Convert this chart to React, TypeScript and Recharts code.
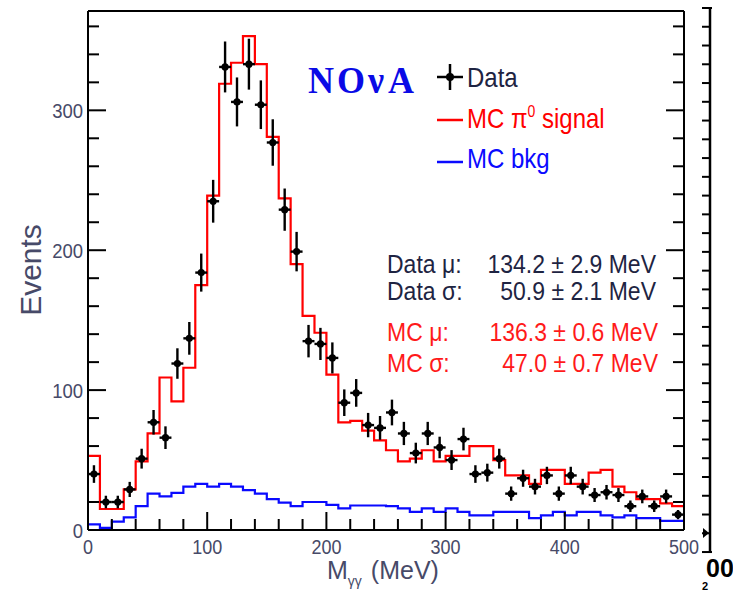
import { ComposedChart, ErrorBar, Line, Scatter, XAxis, YAxis } from 'recharts';

// 10 MeV bins over 0-500 MeV
const BIN_EDGES = Array.from({ length: 51 }, (_, i) => i * 10);
const BIN_CENTERS = BIN_EDGES.slice(0, 50).map((e) => e + 5);

const DATA_COUNTS = [
  40, 20, 20, 29, 51, 77, 66, 119, 137, 184,
  235, 331, 306, 333, 304, 277, 229, 199, 135, 133,
  123, 91, 98, 75, 73, 84, 69, 55, 69, 59,
  50, 65, 40, 41, 51, 26, 37, 31, 39, 26,
  39, 31, 25, 27, 25, 17, 24, 17, 24, 11,
];
const DATA_ERRORS = [
  6.3, 4.5, 4.5, 5.4, 7.1, 8.8, 8.1, 10.9, 11.7, 13.6,
  15.3, 18.2, 17.5, 18.2, 17.4, 16.6, 15.1, 14.1, 11.6, 11.5,
  11.1, 9.5, 9.9, 8.7, 8.5, 9.2, 8.3, 7.4, 8.3, 7.7,
  7.1, 8.1, 6.3, 6.4, 7.1, 5.1, 6.1, 5.6, 6.2, 5.1,
  6.2, 5.6, 5.0, 5.2, 5.0, 4.1, 4.9, 4.1, 4.9, 3.3,
];
const MC_SIGNAL = [
  53, 15, 15, 29, 49, 69, 109, 92, 116, 175,
  239, 319, 334, 353, 333, 281, 237, 190, 153, 141,
  111, 77, 78, 71, 64, 57, 49, 51, 57, 49,
  53, 53, 60, 60, 50, 39, 39, 33, 43, 43,
  33, 33, 41, 43, 31, 27, 22, 22, 19, 17,
];
const MC_BKG = [
  4, 1.5, 6, 9, 17, 26, 24, 26.5, 31, 33,
  31, 33, 31, 28.5, 26, 22, 19.5, 17, 20, 20,
  18, 15.5, 17.5, 17.5, 17.5, 17, 15.5, 13, 15.5, 13,
  15.5, 13, 10.5, 10.5, 13, 13, 13, 8.5, 10.5, 13,
  10.5, 13, 13, 10.5, 9, 10.5, 8.5, 8.5, 6.5, 6.5,
];

const X_TICKS = Array.from({ length: 26 }, (_, i) => i * 20);
const Y_TICKS = Array.from({ length: 19 }, (_, i) => i * 20);

const STATS_DATA = [
  { label: 'Data \u03bc:', value: '134.2 \u00b1 2.9 MeV' },
  { label: 'Data \u03c3:', value: '50.9 \u00b1 2.1 MeV' },
];
const STATS_MC = [
  { label: 'MC \u03bc:', value: '136.3 \u00b1 0.6 MeV' },
  { label: 'MC \u03c3:', value: '47.0 \u00b1 0.7 MeV' },
];

// step histograms need one extra point at the last edge
const histRows = BIN_EDGES.map((m, i) => ({
  m,
  sig: MC_SIGNAL[Math.min(i, 49)],
  bkg: MC_BKG[Math.min(i, 49)],
}));
const pointRows = BIN_CENTERS.map((m, i) => ({
  m,
  n: DATA_COUNTS[i],
  err: DATA_ERRORS[i],
  xerr: 5,
}));

const SANS = '"Liberation Sans", Arial, Helvetica, sans-serif';
const SERIF = '"Liberation Serif", "Times New Roman", serif';
const INK = '#000';
const AXIS_TEXT = '#474a68';
const DARK_TEXT = '#1e2442';
const RED = '#ff0000';
const BLUE = '#0a0aff';
const STRETCH = 1.12;

function Txt({ x, y, size, fill, anchor = 'start', family = SANS, weight, sy = STRETCH, children }: any) {
  return (
    <text
      transform={`translate(${x} ${y}) scale(1 ${sy})`}
      fontSize={size}
      fill={fill}
      textAnchor={anchor}
      fontFamily={family}
      fontWeight={weight}
    >
      {children}
    </text>
  );
}

const tickLen = (v: number) => (v % 100 === 0 ? 18 : 11);

function BottomTick({ x, y, payload }: any) {
  const v = payload.value;
  return (
    <g>
      <line x1={x} x2={x} y1={y} y2={y - tickLen(v)} stroke={INK} strokeWidth={2} />
      {v % 100 === 0 && (
        <Txt x={x} y={y + 24} size={18} anchor="middle" fill={AXIS_TEXT}>
          {v}
        </Txt>
      )}
    </g>
  );
}

function TopTick({ x, y, payload }: any) {
  return <line x1={x} x2={x} y1={y} y2={y + tickLen(payload.value)} stroke={INK} strokeWidth={2} />;
}

function LeftTick({ x, y, payload }: any) {
  const v = payload.value;
  return (
    <g>
      <line x1={x} x2={x + tickLen(v)} y1={y} y2={y} stroke={INK} strokeWidth={2} />
      {v % 100 === 0 && (
        <Txt x={x - 5} y={y + 8} size={18.5} anchor="end" fill={AXIS_TEXT}>
          {v}
        </Txt>
      )}
    </g>
  );
}

function RightTick({ x, y, payload }: any) {
  return <line x1={x} x2={x - tickLen(payload.value)} y1={y} y2={y} stroke={INK} strokeWidth={2} />;
}

const DataMarker = (p: any) => <circle cx={p.cx} cy={p.cy} r={3.6} fill={INK} />;

export default function App() {
  const axisLine = { stroke: INK, strokeWidth: 2 };
  const neighbourTicks = Array.from({ length: 30 }, (_, k) => 8 + k * 18.76);

  return (
    <div style={{ position: 'absolute', left: 0, top: 0, width: 733, height: 593, background: '#fff' }}>
      <ComposedChart width={733} height={593} margin={{ top: 10, right: 48, bottom: 0, left: 28 }}>
        <XAxis
          dataKey="m"
          type="number"
          domain={[0, 500]}
          allowDataOverflow
          ticks={X_TICKS}
          interval={0}
          height={63}
          tickSize={0}
          tickMargin={0}
          tickLine={false}
          axisLine={axisLine}
          tick={<BottomTick />}
        />
        <XAxis
          xAxisId="top"
          orientation="top"
          type="number"
          domain={[0, 500]}
          allowDataOverflow
          ticks={X_TICKS}
          interval={0}
          height={1}
          tickSize={0}
          tickMargin={0}
          tickLine={false}
          axisLine={axisLine}
          tick={<TopTick />}
        />
        <YAxis
          type="number"
          domain={[0, 371]}
          allowDataOverflow
          ticks={Y_TICKS}
          interval={0}
          width={60}
          tickSize={0}
          tickMargin={0}
          tickLine={false}
          axisLine={axisLine}
          tick={<LeftTick />}
        />
        <YAxis
          yAxisId="right"
          orientation="right"
          type="number"
          domain={[0, 371]}
          allowDataOverflow
          ticks={Y_TICKS}
          interval={0}
          width={1}
          tickSize={0}
          tickMargin={0}
          tickLine={false}
          axisLine={axisLine}
          tick={<RightTick />}
        />
        <Line
          data={histRows}
          dataKey="bkg"
          type="stepAfter"
          stroke={BLUE}
          strokeWidth={2.2}
          dot={false}
          isAnimationActive={false}
        />
        <Line
          data={histRows}
          dataKey="sig"
          type="stepAfter"
          stroke={RED}
          strokeWidth={2.2}
          dot={false}
          isAnimationActive={false}
        />
        <Scatter data={pointRows} dataKey="n" fill={INK} shape={DataMarker} isAnimationActive={false}>
          <ErrorBar dataKey="err" direction="y" width={0} stroke={INK} strokeWidth={2.4} />
          <ErrorBar dataKey="xerr" direction="x" width={0} stroke={INK} strokeWidth={2.4} />
        </Scatter>
      </ComposedChart>

      <svg
        width={733}
        height={593}
        style={{ position: 'absolute', left: 0, top: 0, pointerEvents: 'none' }}
      >
        {/* axis titles */}
        <text
          transform="translate(41 270) rotate(-90)"
          textAnchor="middle"
          fontSize={30}
          fontFamily={SANS}
          fill={AXIS_TEXT}
        >
          Events
        </text>
        <text x={327} y={579} fontSize={25} fontFamily={SANS} fill={AXIS_TEXT}>
          M
          <tspan fontSize={14} dy={7}>
            {'\u03b3\u03b3'}
          </tspan>
          <tspan dy={-7} dx={9}>
            (MeV)
          </tspan>
        </text>

        {/* experiment tag */}
        <Txt x={308} y={93} size={36} family={SERIF} weight="bold" fill="#0a0ae6" sy={1.05}>
          <tspan letterSpacing={3}>NO</tspan>
          <tspan>{'\u03bd'}</tspan>
          <tspan dx={4}>A</tspan>
        </Txt>

        {/* legend */}
        <line x1={437} x2={463} y1={77} y2={77} stroke={INK} strokeWidth={2.5} />
        <line x1={450} x2={450} y1={64} y2={90} stroke={INK} strokeWidth={2.5} />
        <circle cx={450} cy={77} r={4} fill={INK} />
        <Txt x={467} y={87} size={24} fill={DARK_TEXT}>
          Data
        </Txt>
        <line x1={437} x2={463} y1={120} y2={120} stroke={RED} strokeWidth={2.5} />
        <Txt x={467} y={128} size={24} fill={RED}>
          MC {'\u03c0'}
          <tspan fontSize={14} dy={-10}>
            0
          </tspan>
          <tspan dy={10}> signal</tspan>
        </Txt>
        <line x1={437} x2={463} y1={162} y2={162} stroke={BLUE} strokeWidth={2.5} />
        <Txt x={467} y={168} size={24} fill={BLUE}>
          MC bkg
        </Txt>

        {/* fit results */}
        {STATS_DATA.map((s, i) => (
          <g key={s.label}>
            <Txt x={387} y={[273, 300][i]} size={23} fill={DARK_TEXT}>
              {s.label}
            </Txt>
            <Txt x={656} y={[273, 300][i]} size={23} anchor="end" fill={DARK_TEXT}>
              {s.value}
            </Txt>
          </g>
        ))}
        {STATS_MC.map((s, i) => (
          <g key={s.label}>
            <Txt x={387} y={[341, 372][i]} size={23} fill="#ff1a1a">
              {s.label}
            </Txt>
            <Txt x={658} y={[341, 372][i]} size={23} anchor="end" fill="#ff1a1a">
              {s.value}
            </Txt>
          </g>
        ))}

        {/* edge of the neighbouring panel */}
        <line x1={710} x2={710} y1={7} y2={553} stroke={INK} strokeWidth={2.5} />
        {neighbourTicks.map((ty, k) => (
          <line
            key={k}
            x1={k === 0 || k === 29 ? 702 : 702}
            x2={k === 0 || k === 29 ? 712 : 710}
            y1={ty}
            y2={ty}
            stroke={INK}
            strokeWidth={2}
          />
        ))}
        <polygon points="703,528 709,533 703,538" fill={INK} />
        <text x={706} y={577} fontSize={25} fontWeight="bold" fontFamily={SANS} fill={INK}>
          00
        </text>
        <text x={702} y={590} fontSize={11} fontWeight="bold" fontFamily={SANS} fill={INK}>
          2
        </text>
      </svg>
    </div>
  );
}
